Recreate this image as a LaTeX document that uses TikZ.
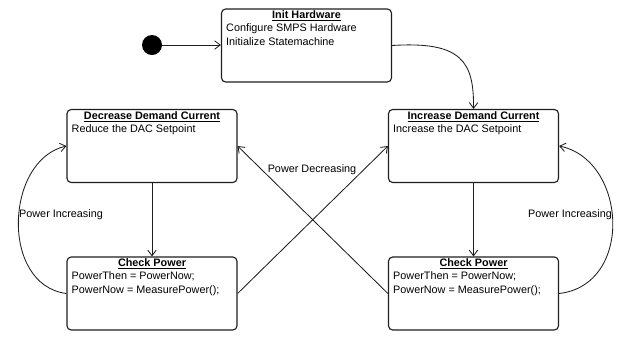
\documentclass[tikz,border=0pt]{standalone}
\usepackage{fontspec}
\setmainfont{Liberation Sans}
\usetikzlibrary{arrows.meta, positioning, calc}
\definecolor{sline}{RGB}{30,30,30}

\begin{document}
\begin{tikzpicture}[x=0.025cm, y=-0.025cm, font=\fontsize{7.7}{9.9}\selectfont,
  statebox/.style={draw=sline, line width=0.8pt, rounded corners=3pt,
                   minimum width=4.25cm, minimum height=1.825cm},
  titletext/.style={inner sep=0pt, anchor=north,
                    font=\fontsize{7.7}{9.9}\selectfont\bfseries},
  bodytext/.style={inner sep=0pt, anchor=north west, align=left},
  trans/.style={draw=sline, line width=0.6pt,
                -{Straight Barb[length=4pt,width=6pt]}},
  translabel/.style={inner sep=1pt}]

  \useasboundingbox (0,0) rectangle (624,337);

  % states: name / centre (px) / title / body
  \foreach \nm/\cx/\cy/\ttl/\bdy in {
      init/306.5/45.5/{Init Hardware}/{Configure SMPS Hardware\\Initialize Statemachine},
      dec/152/146/{Decrease Demand Current}/{Reduce the DAC Setpoint},
      inc/473.5/146/{Increase Demand Current}/{Increase the DAC Setpoint},
      chkL/152/293.5/{Check Power}/{PowerThen = PowerNow;\\PowerNow = MeasurePower();},
      chkR/473.5/293.5/{Check Power}/{PowerThen = PowerNow;\\PowerNow = MeasurePower();}}{
    \node[statebox] (\nm) at (\cx,\cy) {};
    \node[titletext] (\nm-title) at ([yshift=-1.5pt]\nm.north) {\underline{\ttl}};
    \node[bodytext] (\nm-body) at ($(\nm.north west)+(5,15)$) {\bdy};
  }

  % initial state
  \node[circle, fill=black, inner sep=0pt, minimum size=0.5cm] (start) at (152,45) {};
  \draw[trans] (start) -- (start -| init.west);

  % transitions
  \draw[trans] (init.east) .. controls (462,41) and (474,62) .. (inc.north);
  \draw[trans] (dec) -- (chkL);
  \draw[trans] (inc) -- (chkR);
  \draw[trans] (chkL.west) .. controls (0,285) and (5,160) .. (dec.west);
  \draw[trans] (chkR.east) .. controls (634,285) and (627,160) .. (inc.east);
  \draw[trans] (chkL.east) -- (inc.west);
  \draw[trans] (chkR.west) -- (dec.east);

  % labels
  \node[translabel] (lblIncL) at (61,215) {Power Increasing};
  \node[translabel] (lblIncR) at (570,215) {Power Increasing};
  \node[translabel] (lblDec) at (312,170) {Power Decreasing};
\end{tikzpicture}
\end{document}
